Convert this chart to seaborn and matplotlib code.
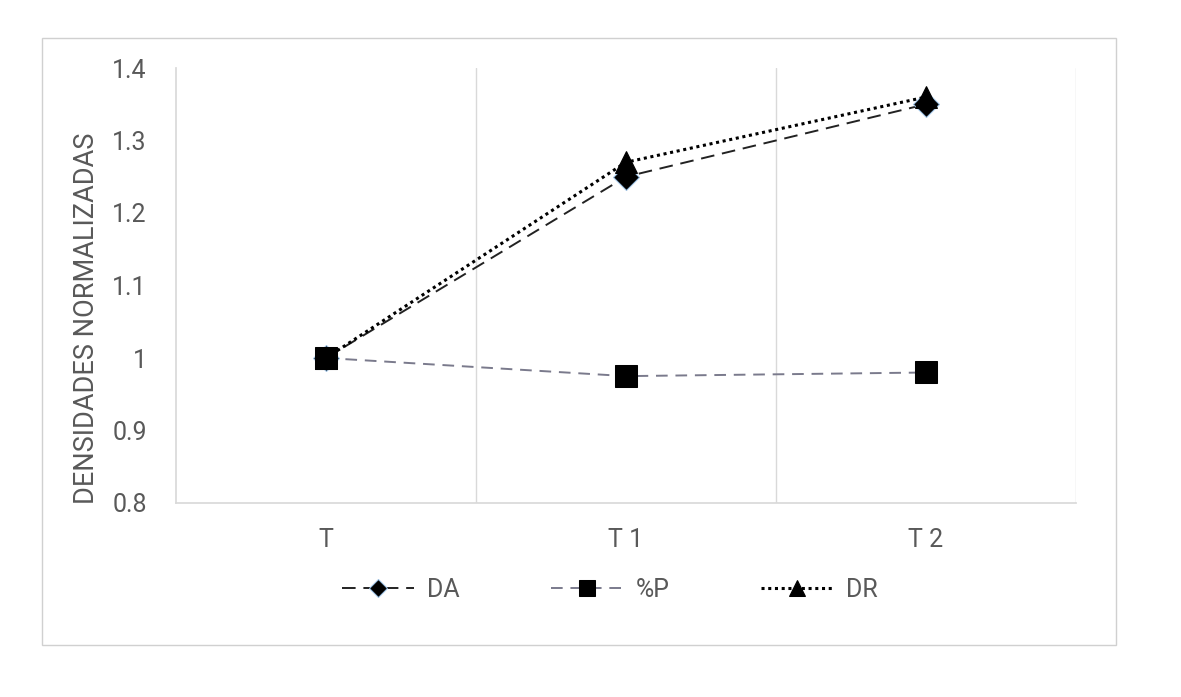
import matplotlib
matplotlib.use("Agg")
import matplotlib.pyplot as plt
import seaborn as sns
from matplotlib.patches import Rectangle

categories = ["T", "T1", "T2"]
tick_labels = ["T", "T 1", "T 2"]
da = [1.0, 1.25, 1.35]
pp = [1.0, 0.975, 0.98]
dr = [1.0, 1.27, 1.36]

sns.set_theme(style="white")
plt.rcParams["font.family"] = ["Roboto", "DejaVu Sans"]

fig = plt.figure(figsize=(11.81, 6.97), dpi=100)
fig.patches.append(Rectangle((42 / 1181, 1 - 645 / 697), (1116 - 42) / 1181, (645 - 38) / 697,
                             transform=fig.transFigure, fill=False, edgecolor="#d0d0d0", lw=1))
ax = fig.add_axes([176 / 1181, 1 - 503 / 697, 900 / 1181, 435 / 697])

sns.lineplot(x=categories, y=da, ax=ax, color="#222222", lw=1.4, linestyle=(0, (7, 4)),
             marker="D", markersize=13, markerfacecolor="black", markeredgecolor="#9ec3e6",
             label="DA", sort=False, zorder=3)
sns.lineplot(x=categories, y=dr, ax=ax, color="black", lw=2.2, linestyle=(0, (1, 1.2)),
             marker="^", markersize=16, markerfacecolor="black", markeredgecolor="black",
             label="DR", sort=False, zorder=4)
sns.lineplot(x=categories, y=pp, ax=ax, color="#7a7a8c", lw=1.4, linestyle=(0, (6, 4)),
             marker="s", markersize=16, markerfacecolor="black", markeredgecolor="black",
             label="%P", sort=False, zorder=5)

ax.set_xlim(-0.5, 2.5)
ax.set_ylim(0.8, 1.4)
ax.set_yticks([0.8, 0.9, 1.0, 1.1, 1.2, 1.3, 1.4])
ax.set_yticklabels(["0.8", "0.9", "1", "1.1", "1.2", "1.3", "1.4"])
ax.set_xticks([0, 1, 2])
ax.set_xticklabels(tick_labels)
for x in [0.5, 1.5, 2.5]:
    ax.axvline(x, color="#d9d9d9", lw=1, zorder=0)
for s in ["top", "right"]:
    ax.spines[s].set_visible(False)
ax.spines["left"].set_color("#d9d9d9")
ax.spines["bottom"].set_color("#d9d9d9")
ax.tick_params(axis="both", colors="#595959", labelsize=18, length=0)
ax.tick_params(axis="y", pad=21)
ax.tick_params(axis="x", pad=18)
ax.set_xlabel("")
ax.set_ylabel("DENSIDADES NORMALIZADAS", fontsize=19.5, color="#595959")
ax.yaxis.set_label_coords(-0.084, 0.425)

handles, labels = ax.get_legend_handles_labels()
order = [labels.index(l) for l in ["DA", "%P", "DR"]]
leg = ax.legend([handles[i] for i in order], [labels[i] for i in order], loc="center",
                bbox_to_anchor=(0.482, -0.2), ncol=3, frameon=False, fontsize=18,
                labelcolor="#595959", columnspacing=3.65, handlelength=2.9, handletextpad=0.5)
for h, ms in zip(leg.legend_handles, [9, 11, 12]):
    h.set_markersize(ms)

fig.savefig("out.png", dpi=100, facecolor="white")
